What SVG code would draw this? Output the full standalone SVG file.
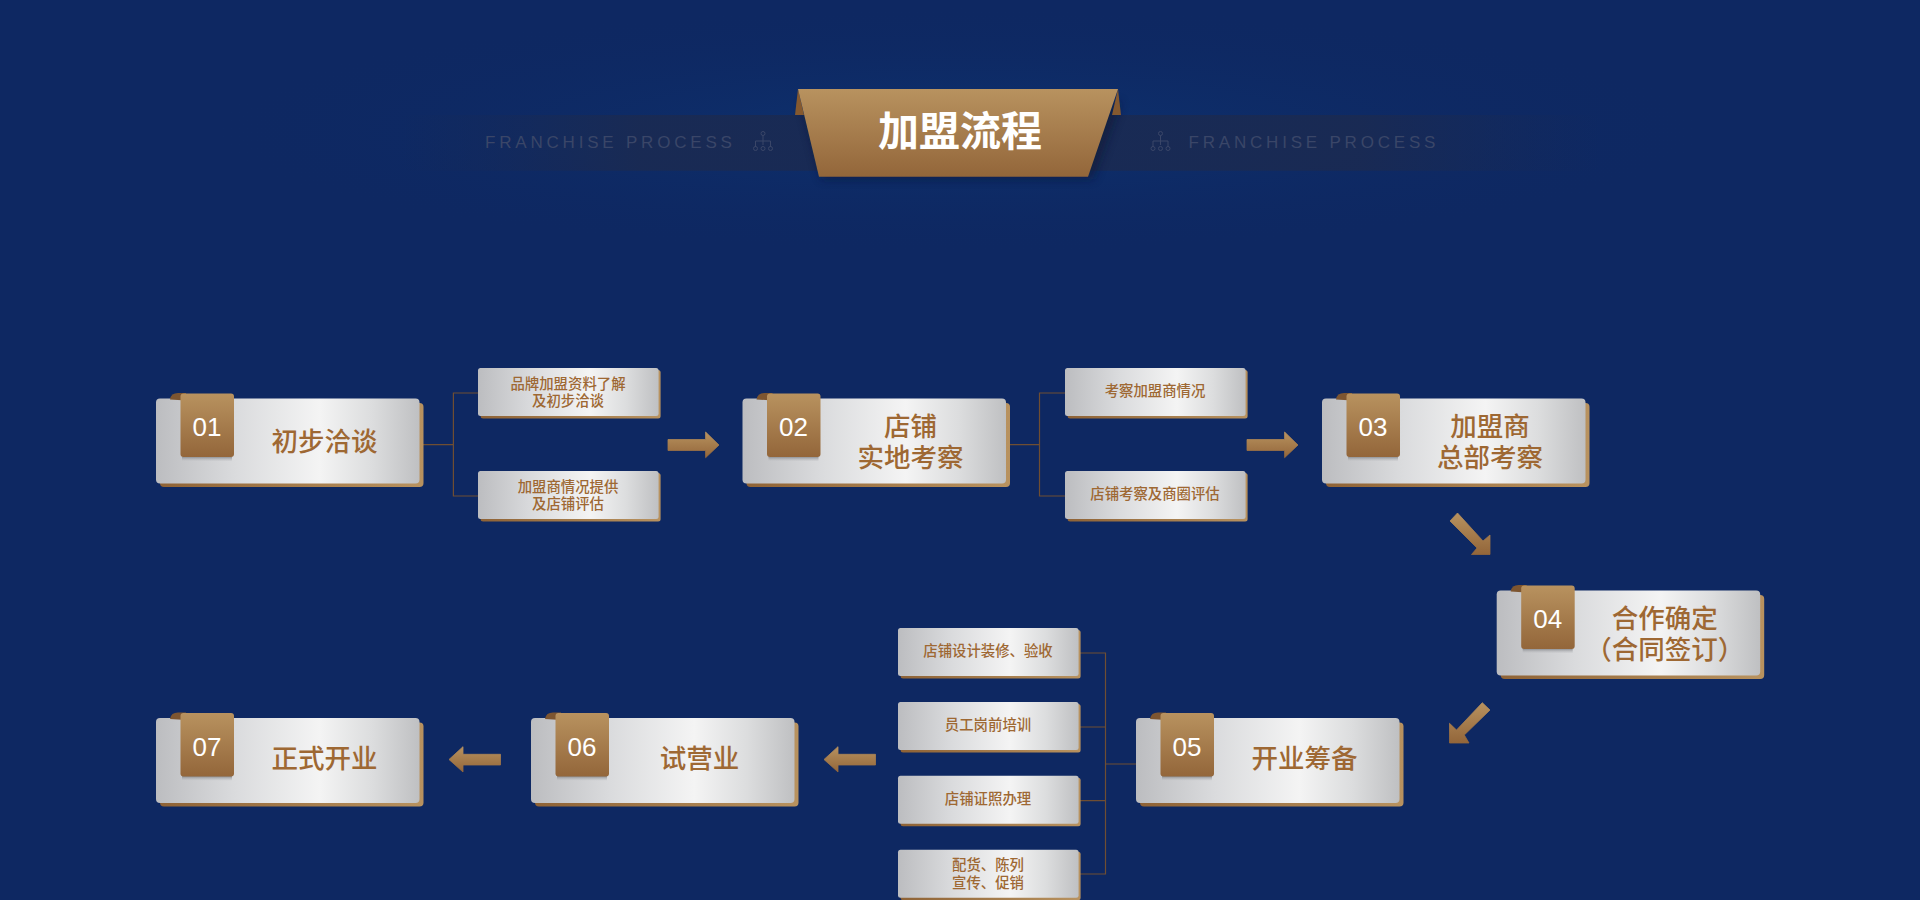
<svg xmlns="http://www.w3.org/2000/svg" xmlns:xlink="http://www.w3.org/1999/xlink" width="1920" height="900" viewBox="0 0 1920 900">
<style>
.cjk{font-family:"Noto Sans CJK SC","Liberation Sans",sans-serif;text-anchor:middle}
.main{font-size:26.5px;font-weight:500;fill:#9e6833}
.sub{font-size:14.4px;font-weight:500;fill:#9e6833}
.num{font-family:"Liberation Sans",sans-serif;font-size:26px;fill:#fff;text-anchor:middle}
.title{font-size:41px;font-weight:700;fill:#fff}
.en{font-family:"Liberation Sans",sans-serif;font-size:17px;letter-spacing:3.8px;fill:#3a4668}
.line{fill:none;stroke:#6f4e32;stroke-width:1.2}
.arrow{fill:url(#gold);stroke:url(#gold);stroke-width:.8;stroke-linejoin:round}
.icon{fill:none;stroke:#3a4668;stroke-width:1}
</style>
<defs>
<linearGradient id="silver" x1="0" y1="0" x2="1" y2="0">
<stop offset="0" stop-color="#bcbdc0"/><stop offset=".3" stop-color="#dadbdd"/><stop offset=".62" stop-color="#f4f4f4"/><stop offset=".82" stop-color="#dcddde"/><stop offset="1" stop-color="#bfc0c2"/>
</linearGradient>
<linearGradient id="gold" x1="0" y1="0" x2="0" y2="1"><stop offset="0" stop-color="#b8925f"/><stop offset="1" stop-color="#93663a"/></linearGradient>
<linearGradient id="back" x1="0" y1="0" x2="1" y2="0"><stop offset="0" stop-color="#8f6336"/><stop offset="1" stop-color="#b8925f"/></linearGradient>
<linearGradient id="tabsh" x1="0" y1="0" x2="0" y2="1"><stop offset="0" stop-color="#85878b"/><stop offset="1" stop-color="#c4c5c8" stop-opacity=".3"/></linearGradient>
<linearGradient id="band" x1="0" y1="0" x2="1" y2="0">
<stop offset="0" stop-color="#1a2a52" stop-opacity="0"/><stop offset=".08" stop-color="#1a2a52" stop-opacity=".3"/><stop offset=".2" stop-color="#1a2a52" stop-opacity=".9"/><stop offset=".8" stop-color="#1a2a52" stop-opacity=".9"/><stop offset=".92" stop-color="#1a2a52" stop-opacity=".3"/><stop offset="1" stop-color="#1a2a52" stop-opacity="0"/>
</linearGradient>
<radialGradient id="glow" cx=".5" cy=".5" r=".5"><stop offset="0" stop-color="#0d3270"/><stop offset="1" stop-color="#0e2862" stop-opacity="0"/></radialGradient>
<filter id="blur" x="-20%" y="-20%" width="140%" height="140%"><feGaussianBlur stdDeviation="5"/></filter>
<g id="card">
<rect x="4" y="4.5" width="263.5" height="84" rx="4" fill="url(#back)"/>
<rect width="263.5" height="85" rx="4" fill="url(#silver)"/>
<path d="M14 1Q15-5.4 22-5.4H30V2Z" fill="#7d5530"/>
<rect x="26" y="58" width="50" height="4.5" fill="url(#tabsh)"/>
<rect x="24.5" y="-5" width="53.5" height="63.6" rx="3" fill="url(#gold)"/>
</g>
<g id="subcard">
<rect x="2.6" y="2" width="180" height="48.5" rx="2.5" fill="url(#back)"/>
<rect width="180.6" height="48" rx="2.5" fill="url(#silver)"/>
</g>
<g id="org" class="icon">
<circle cx="10" cy="2.5" r="2"/><path d="M10 4.5V14M2.5 16V10H17.5V16"/><circle cx="2.5" cy="17.5" r="2"/><circle cx="10" cy="17.5" r="2"/><circle cx="17.5" cy="17.5" r="2"/>
</g>
</defs>

<rect width="1920" height="900" fill="#0e2862"/>
<ellipse cx="960" cy="130" rx="760" ry="125" fill="url(#glow)"/>

<g id="header">
<rect x="400" y="115" width="1200" height="55.7" fill="url(#band)"/>
<path d="M818 177H1089L1117 100H798Z" fill="#0a1530" opacity=".55" filter="url(#blur)" transform="translate(4 2)"/>
<path d="M798 89L795 115H804Z" fill="#85592f"/>
<path d="M1118 89L1121 115H1112Z" fill="#85592f"/>
<path d="M798 89H1118L1088 176.7H819Z" fill="url(#gold)"/>
<text class="cjk title" x="960" y="146">加盟流程</text>
<text class="en" x="485" y="148">FRANCHISE PROCESS</text>
<use href="#org" x="753" y="131"/>
<use href="#org" x="1150.5" y="131"/>
<text class="en" x="1188.5" y="148">FRANCHISE PROCESS</text>
</g>

<g id="connectors">
<path class="line" d="M423 444.7H453.4M478 393H453.4V496H478"/>
<path class="line" d="M1010 444.7H1039.5M1065 393H1039.5V496H1065"/>
<path class="line" d="M1080 653H1105.5V874H1080M1080 727H1105.5M1080 800.7H1105.5M1105.5 764H1136"/>
<path class="arrow" d="M668 439.5H705.6V432L719 445L705.6 457.7V450.5H668Z"/>
<path class="arrow" d="M1247 439.5H1284.6V432L1298 445L1284.6 457.7V450.5H1247Z"/>
<path class="arrow" d="M1450 521L1457.5 513L1483 541L1490 535V554.5H1471.5L1477 548Z"/>
<path class="arrow" d="M1482.3 702.7L1490 710L1464.3 735L1469 743H1449.5V723.3L1456.5 730Z"/>
<path class="arrow" d="M875.5 754.3V765H838V772L824 759.5L838 746.7V754.3Z"/>
<path class="arrow" d="M500.5 754.3V765H463V772L449 759.5L463 746.7V754.3Z"/>
</g>

<g id="n01" transform="translate(156 398.5)"><use href="#card"/><text class="num" x="51" y="37.5">01</text><text class="cjk main" x="168.5" y="52">初步洽谈</text></g>
<g id="n02" transform="translate(742.5 398.5)"><use href="#card"/><text class="num" x="51" y="37.5">02</text><text class="cjk main" x="168" y="37.5">店铺</text><text class="cjk main" x="168" y="68.5">实地考察</text></g>
<g id="n03" transform="translate(1322 398.5)"><use href="#card"/><text class="num" x="51" y="37.5">03</text><text class="cjk main" x="168" y="37.5">加盟商</text><text class="cjk main" x="168" y="68.5">总部考察</text></g>
<g id="n04" transform="translate(1496.7 590.5)"><use href="#card"/><text class="num" x="51" y="37.5">04</text><text class="cjk main" x="168" y="37.5">合作确定</text><text class="cjk main" x="168" y="68.5">（合同签订）</text></g>
<g id="n05" transform="translate(1136 718)"><use href="#card"/><text class="num" x="51" y="37.5">05</text><text class="cjk main" x="168.5" y="50">开业筹备</text></g>
<g id="n06" transform="translate(531 718)"><use href="#card"/><text class="num" x="51" y="37.5">06</text><text class="cjk main" x="168.5" y="50">试营业</text></g>
<g id="n07" transform="translate(156 718)"><use href="#card"/><text class="num" x="51" y="37.5">07</text><text class="cjk main" x="168.5" y="50">正式开业</text></g>

<g id="s1a" transform="translate(478 368)"><use href="#subcard"/><text class="cjk sub" x="90" y="20.5">品牌加盟资料了解</text><text class="cjk sub" x="90" y="38">及初步洽谈</text></g>
<g id="s1b" transform="translate(478 471)"><use href="#subcard"/><text class="cjk sub" x="90" y="20.5">加盟商情况提供</text><text class="cjk sub" x="90" y="38">及店铺评估</text></g>
<g id="s2a" transform="translate(1065 368)"><use href="#subcard"/><text class="cjk sub" x="90" y="28">考察加盟商情况</text></g>
<g id="s2b" transform="translate(1065 471)"><use href="#subcard"/><text class="cjk sub" x="90" y="28">店铺考察及商圈评估</text></g>
<g id="s5a" transform="translate(898 628)"><use href="#subcard"/><text class="cjk sub" x="90" y="28">店铺设计装修、验收</text></g>
<g id="s5b" transform="translate(898 702)"><use href="#subcard"/><text class="cjk sub" x="90" y="28">员工岗前培训</text></g>
<g id="s5c" transform="translate(898 775.7)"><use href="#subcard"/><text class="cjk sub" x="90" y="28">店铺证照办理</text></g>
<g id="s5d" transform="translate(898 849.7)"><use href="#subcard"/><text class="cjk sub" x="90" y="20.5">配货、陈列</text><text class="cjk sub" x="90" y="38">宣传、促销</text></g>
</svg>
